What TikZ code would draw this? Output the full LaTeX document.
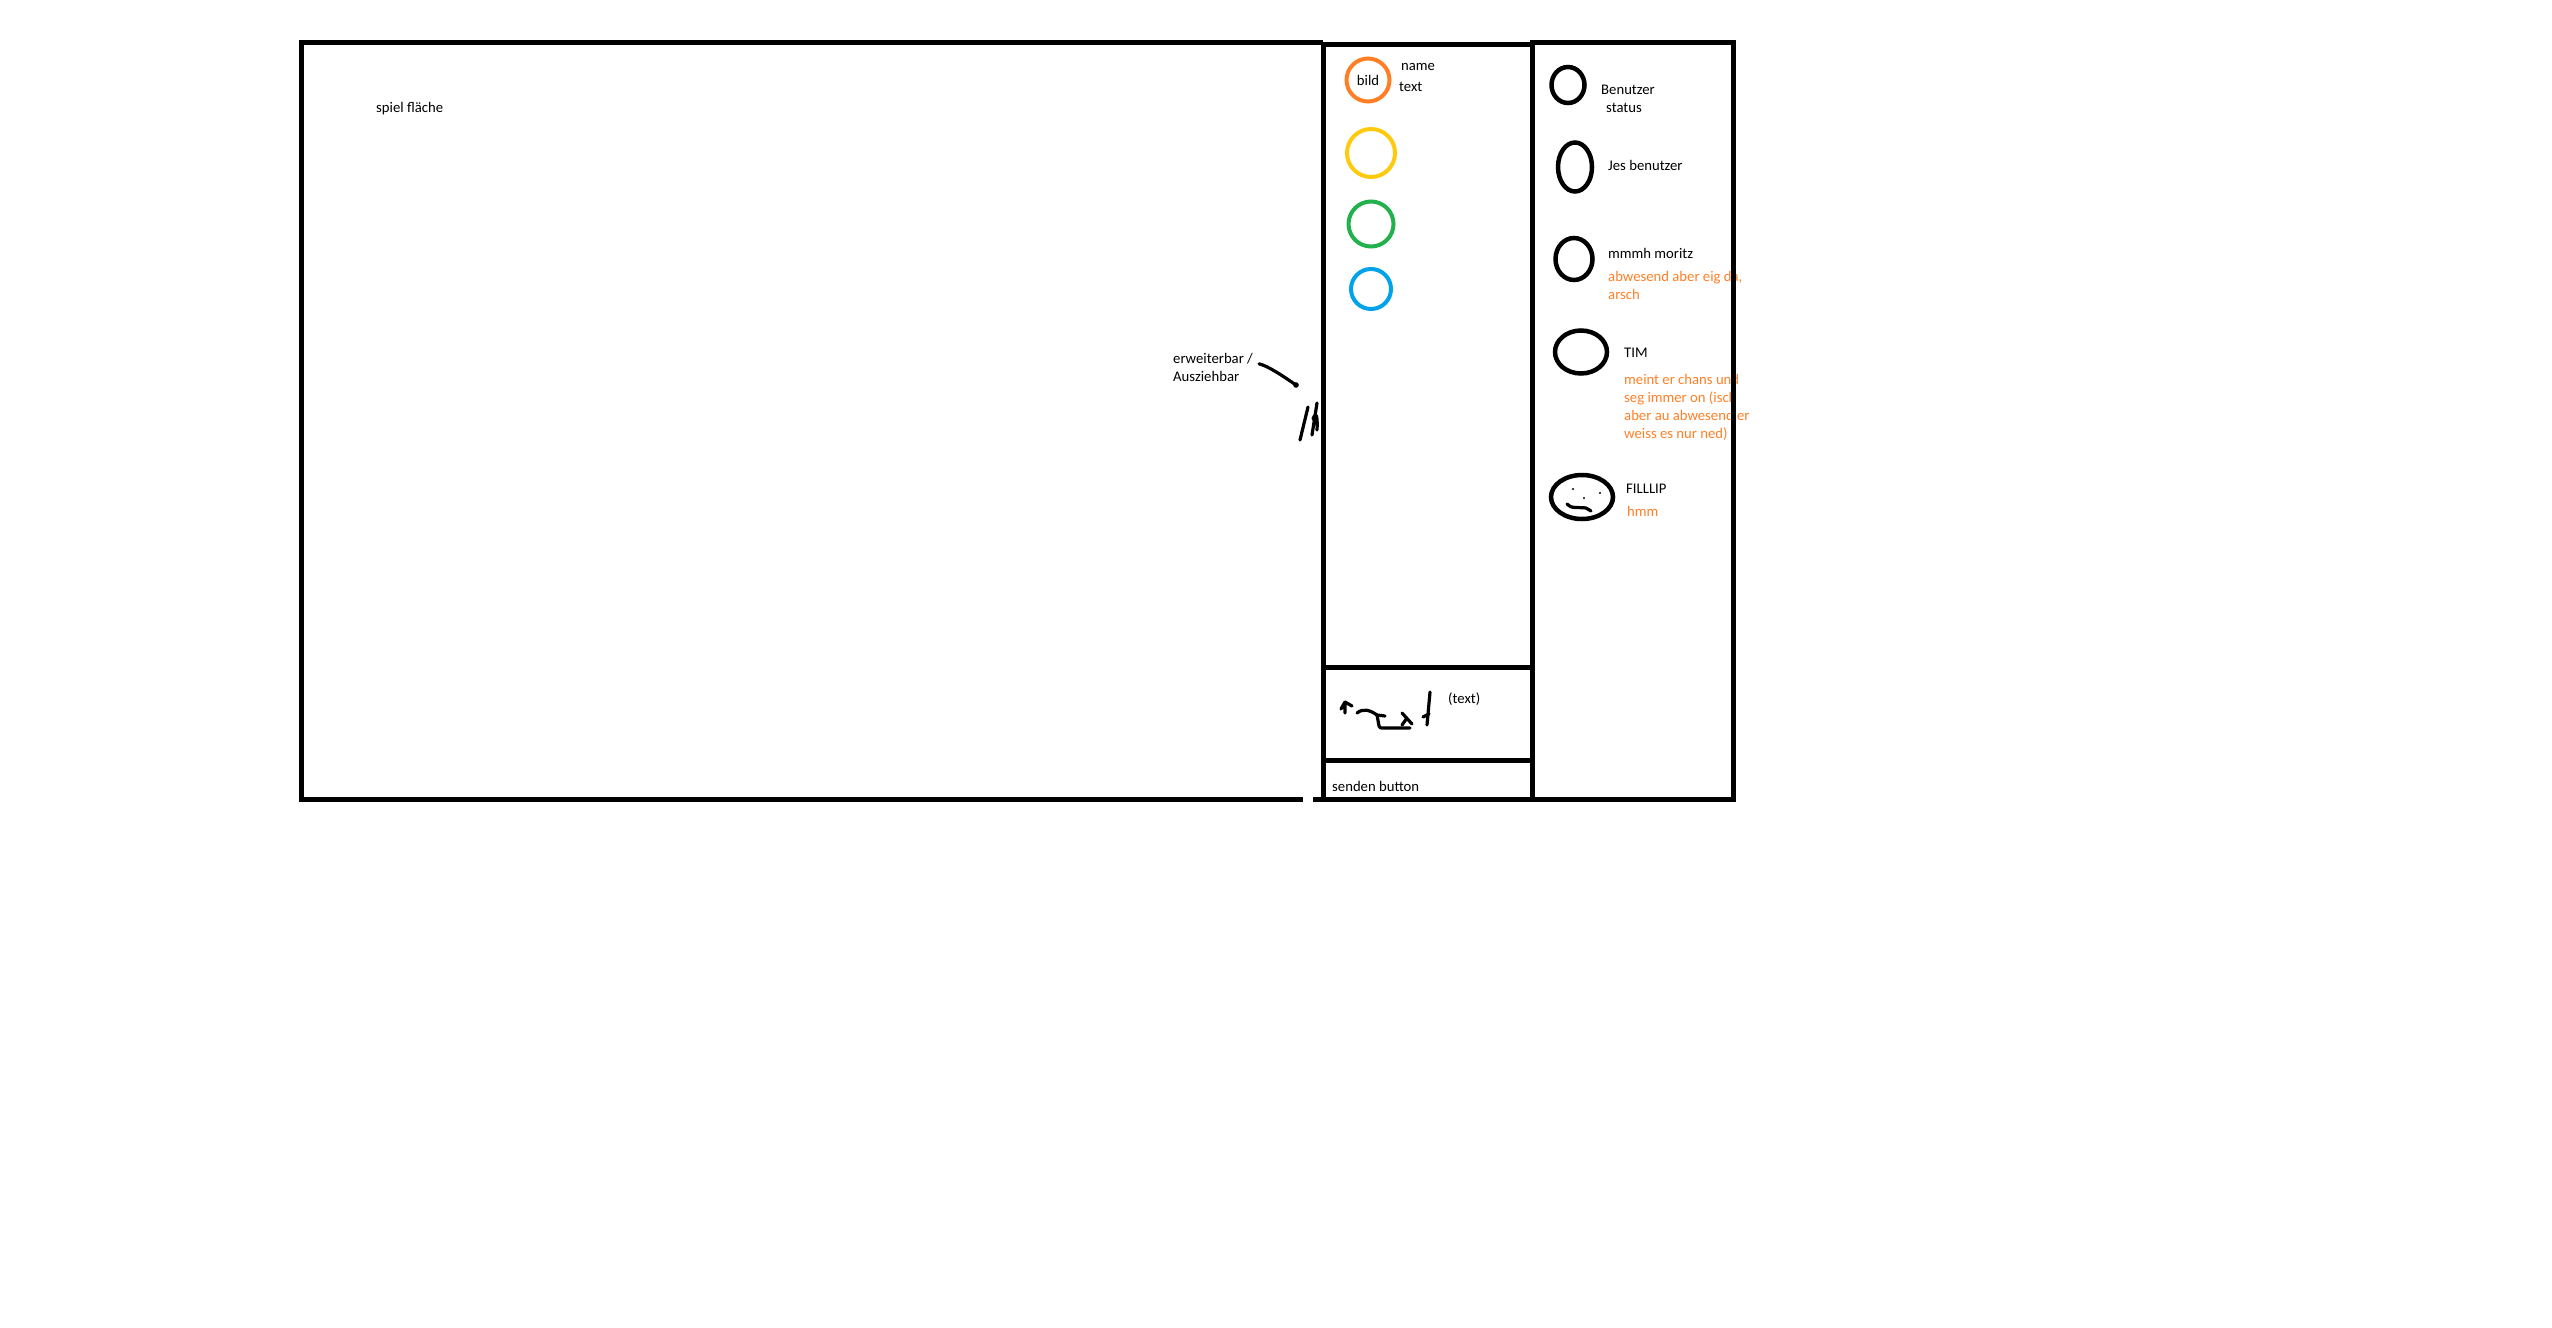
\documentclass[tikz,border=0pt]{standalone}
\usepackage{fontspec}
\setmainfont{Carlito}
\usetikzlibrary{shapes.geometric}
\definecolor{bildorange}{HTML}{FF7F27}
\definecolor{gelb}{HTML}{FFC90E}
\definecolor{gruen}{HTML}{22B14C}
\definecolor{blau}{HTML}{00A2E8}
\tikzset{
  txt/.style={anchor=base west, inner sep=0pt, font=\fontsize{14.7}{17.6}\selectfont},
  note/.style={txt, text=bildorange},
  bubble/.style={circle, draw, line width=4pt, inner sep=0pt, font=\fontsize{14.7}{17.6}\selectfont},
  avatar/.style={ellipse, draw, line width=4.5pt, inner sep=0pt},
  frame/.style={line width=5pt},
  scribble/.style={line width=3.2pt, line cap=round, line join=round}
}
\begin{document}
\begin{tikzpicture}[x=1pt,y=-1pt]
\useasboundingbox (0,0) rectangle (2552,1328);

% spiel flaeche
\node[txt] (spiel) at (376,112) {spiel fläche};
\node[txt] (erw) at (1173,363) {erweiterbar /};
\node[txt] (ausz) at (1173,381) {Ausziehbar};
\coordinate (griff) at (1296,385);
\draw[scribble] ([xshift=6pt]erw.south east) .. controls (1268,366) and (1283,376) .. (griff);
\fill (griff) circle (2.8);
\draw[scribble] (1308,407) -- (1300,440) (1317,403) -- (1312,435)
  (1313,419) .. controls (1315,413) and (1318,412) .. (1317,430);

% chat
\node[bubble, draw=bildorange, minimum size=43pt] (bild) at (1368,80) {bild};
\node[txt] (name) at (1401,70) {name};
\node[txt] (nachricht) at (1399,91) {text};
\node[bubble, draw=gelb, minimum size=48pt] (gelb) at (1371,153) {};
\node[bubble, draw=gruen, minimum size=45pt] (gruen) at (1371,224) {};
\node[bubble, draw=blau, minimum size=40pt] (blau) at (1371,289) {};

\draw[scribble] (1341,709) -- (1345,702) -- (1352,706) (1345,702) -- (1345,713);
\draw[scribble] (1357,713) .. controls (1363,708) and (1370,710) .. (1377,715) -- (1385,716);
\draw[scribble] (1377,715) -- (1379,726) .. controls (1380,728) .. (1384,728) -- (1410,728);
\draw[scribble] (1402,713) -- (1412,724) (1407,718) -- (1402,725);
\draw[scribble] (1430,692) -- (1427,725) (1423,717) -- (1429,714);
\node[txt] (eingabe) at (1448,703) {(text)};
\node[txt] (senden) at (1332,791) {senden button};

% benutzer
\node[avatar, minimum width=33pt, minimum height=36pt] (u1) at (1568,85) {};
\node[txt] (benutzer) at (1601,94) {Benutzer};
\node[txt] (status) at (1606,112) {status};
\node[avatar, minimum width=34pt, minimum height=49pt] (jes) at (1575,167) {};
\node[txt] (jesname) at (1608,170) {Jes benutzer};
\node[avatar, minimum width=37pt, minimum height=42pt] (moritz) at (1574,259) {};
\node[txt] (moritzname) at (1608,258) {mmmh moritz};
\node[note] (moritz1) at (1608,281) {abwesend aber eig da,};
\node[note] (moritz2) at (1608,299) {arsch};
\node[avatar, minimum width=52pt, minimum height=43pt] (tim) at (1581,352) {};
\node[txt] (timname) at (1624,357) {TIM};
\node[note] (tim1) at (1624,384) {meint er chans und};
\node[note] (tim2) at (1624,402) {seg immer on (isch};
\node[note] (tim3) at (1624,420) {aber au abwesend er};
\node[note] (tim4) at (1624,438) {weiss es nur ned)};
\node[avatar, minimum width=62pt, minimum height=44pt] (fillip) at (1582,497) {};
\fill (1573,489) circle (1.2) (1600,493) circle (1.2) (1584,498) circle (1.2);
\draw[scribble] (1567,504) .. controls (1570,509) and (1580,507) .. (1586,508) -- (1591,511);
\node[txt] (fillipname) at (1626,493) {FILLLIP};
\node[note] (hmm) at (1627,516) {hmm};

% rahmen
\draw[frame] (1303,799) -- (301,799) -- (301,42) -- (1323,42) (1313,799) -- (1323,799);
\draw[frame] (1323,44) rectangle (1532,799);
\draw[frame] (1323,667) -- (1532,667) (1323,760) -- (1532,760);
\draw[frame] (1532,42) rectangle (1733,799);
\end{tikzpicture}
\end{document}
